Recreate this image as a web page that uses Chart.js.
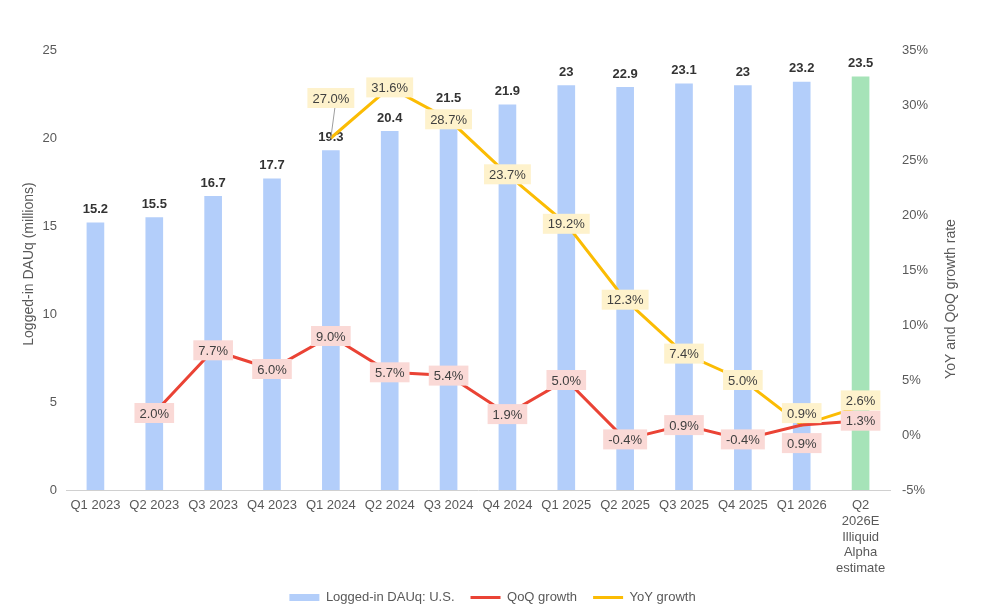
<!DOCTYPE html>
<html>
<head>
<meta charset="utf-8">
<title>Logged-in DAUq: U.S.</title>
<script src="https://cdn.jsdelivr.net/npm/chart.js@4.4.1/dist/chart.umd.min.js"></script>
<style>
  html, body { margin: 0; padding: 0; background: #fff; }
  #wrap { width: 985px; height: 609px; }
</style>
</head>
<body>
<div id="wrap"><canvas id="dauChart"></canvas></div>
<script>
const quarters = ['Q1 2023', 'Q2 2023', 'Q3 2023', 'Q4 2023', 'Q1 2024', 'Q2 2024', 'Q3 2024',
  'Q4 2024', 'Q1 2025', 'Q2 2025', 'Q3 2025', 'Q4 2025', 'Q1 2026',
  ['Q2', '2026E', 'Illiquid', 'Alpha', 'estimate']];
const dauValues = [15.2, 15.5, 16.7, 17.7, 19.3, 20.4, 21.5, 21.9, 23, 22.9, 23.1, 23, 23.2, 23.5];
const qoqGrowth = [null, 2.0, 7.7, 6.0, 9.0, 5.7, 5.4, 1.9, 5.0, -0.4, 0.9, -0.4, 0.9, 1.3];
const yoyGrowth = [null, null, null, null, 27.0, 31.6, 28.7, 23.7, 19.2, 12.3, 7.4, 5.0, 0.9, 2.6];
const leftTicks = [0, 5, 10, 15, 20, 25];
const rightTicks = [-5, 0, 5, 10, 15, 20, 25, 30, 35];

const FONT = "'Liberation Sans', Arial, sans-serif";
const BLUE = '#b3cefa';
const GREEN = '#a6e3b8';
const RED = '#ea4335';
const YELLOW = '#fbbc04';

// nudges for labels that would collide (pixels, vertical)
const labelShift = { 1: { 12: 18 }, 2: { 4: -40, 12: -12, 13: -6 } };
const labelBg = { 1: '#fad9d6', 2: '#fef2cc' };

const barColors = dauValues.map((v, i) => i === dauValues.length - 1 ? GREEN : BLUE);

const labelsPlugin = {
  id: 'labels',
  afterDatasetDraw(chart, args) {
    if (args.index !== 0) return;
    const ctx = chart.ctx;
    const meta = chart.getDatasetMeta(0);
    ctx.save();
    ctx.font = 'bold 13px ' + FONT;
    ctx.fillStyle = '#333333';
    ctx.textAlign = 'center';
    ctx.textBaseline = 'middle';
    meta.data.forEach((bar, i) => {
      ctx.fillText(String(dauValues[i]), bar.x, bar.y - 13);
    });
    ctx.restore();
  },
  afterDatasetsDraw(chart) {
    const ctx = chart.ctx;
    ctx.save();
    ctx.font = '13px ' + FONT;
    ctx.textAlign = 'center';
    ctx.textBaseline = 'middle';
    [1, 2].forEach(di => {
      const meta = chart.getDatasetMeta(di);
      const values = chart.data.datasets[di].data;
      meta.data.forEach((pt, i) => {
        if (values[i] === null) return;
        const text = values[i].toFixed(1) + '%';
        const shift = (labelShift[di] && labelShift[di][i]) || 0;
        const y = pt.y + shift;
        const w = ctx.measureText(text).width + 10;
        const h = 20;
        if (Math.abs(shift) > 25) {
          ctx.strokeStyle = '#9e9e9e';
          ctx.lineWidth = 1;
          ctx.beginPath();
          ctx.moveTo(pt.x, pt.y);
          ctx.lineTo(pt.x + 4, y + h / 2);
          ctx.stroke();
        }
        ctx.fillStyle = labelBg[di];
        ctx.fillRect(pt.x - w / 2, y - h / 2, w, h);
        ctx.fillStyle = '#404040';
        ctx.fillText(text, pt.x, y + 1);
      });
    });
    ctx.restore();
  },
  afterDraw(chart) {
    const ctx = chart.ctx;
    ctx.save();
    ctx.font = '14px ' + FONT;
    ctx.fillStyle = '#595959';
    ctx.textAlign = 'center';
    ctx.textBaseline = 'middle';
    ctx.translate(29, 264);
    ctx.rotate(-Math.PI / 2);
    ctx.fillText('Logged-in DAUq (millions)', 0, 0);
    ctx.restore();
    ctx.save();
    ctx.font = '14px ' + FONT;
    ctx.fillStyle = '#595959';
    ctx.textAlign = 'center';
    ctx.textBaseline = 'middle';
    ctx.translate(951, 299);
    ctx.rotate(-Math.PI / 2);
    ctx.fillText('YoY and QoQ growth rate', 0, 0);
    ctx.restore();
  }
};

const ctx = document.getElementById('dauChart').getContext('2d');
const chart = new Chart(ctx, {
  type: 'bar',
  data: {
    labels: quarters,
    datasets: [{
      label: 'Logged-in DAUq: U.S.',
      data: dauValues,
      backgroundColor: barColors,
      borderWidth: 0,
      yAxisID: 'y',
      order: 3,
      barPercentage: 0.3,
      categoryPercentage: 1.0
    }, {
      type: 'line',
      label: 'QoQ growth',
      data: qoqGrowth,
      borderColor: RED,
      backgroundColor: RED,
      borderWidth: 3,
      pointRadius: 0,
      tension: 0,
      yAxisID: 'y1',
      order: 1
    }, {
      type: 'line',
      label: 'YoY growth',
      data: yoyGrowth,
      borderColor: YELLOW,
      backgroundColor: YELLOW,
      borderWidth: 3,
      pointRadius: 0,
      tension: 0,
      yAxisID: 'y1',
      order: 2
    }]
  },
  options: {
    responsive: true,
    maintainAspectRatio: false,
    animation: false,
    layout: { padding: { top: 50, left: 0, right: 0, bottom: -5 } },
    plugins: {
      title: { display: false },
      tooltip: { enabled: false },
      legend: {
        position: 'bottom',
        labels: {
          usePointStyle: true,
          pointStyleWidth: 30,
          boxHeight: 7,
          padding: 16,
          color: '#595959',
          font: { family: FONT, size: 13 },
          sort: (a, b) => a.datasetIndex - b.datasetIndex,
          generateLabels(c) {
            const items = Chart.defaults.plugins.legend.labels.generateLabels(c);
            items.forEach(item => {
              if (item.datasetIndex === 0) {
                item.pointStyle = 'rect';
                item.fillStyle = BLUE;
                item.strokeStyle = BLUE;
                item.lineWidth = 0;
              } else {
                item.pointStyle = 'line';
              }
            });
            return items;
          }
        }
      }
    },
    scales: {
      x: {
        grid: { display: false, drawTicks: false },
        border: { display: true, color: '#d0d0d0', width: 1 },
        ticks: {
          autoSkip: false,
          maxRotation: 0,
          padding: 8,
          color: '#595959',
          font: { family: FONT, size: 13, lineHeight: 1.2 }
        },
        afterFit(scale) { scale.height = 85; }
      },
      y: {
        position: 'left',
        min: 0,
        max: 25,
        afterBuildTicks(scale) { scale.ticks = leftTicks.map(v => ({ value: v })); },
        grid: { display: false, drawTicks: false },
        border: { display: false },
        ticks: {
          padding: 9,
          color: '#595959',
          font: { family: FONT, size: 13 }
        },
        afterFit(scale) { scale.width = 66; }
      },
      y1: {
        position: 'right',
        min: -5,
        max: 35,
        afterBuildTicks(scale) { scale.ticks = rightTicks.map(v => ({ value: v })); },
        grid: { display: false, drawTicks: false },
        border: { display: false },
        ticks: {
          padding: 12,
          color: '#595959',
          font: { family: FONT, size: 13 },
          callback: v => v + '%'
        },
        afterFit(scale) { scale.width = 95; }
      }
    }
  },
  plugins: [labelsPlugin]
});
</script>
</body>
</html>
